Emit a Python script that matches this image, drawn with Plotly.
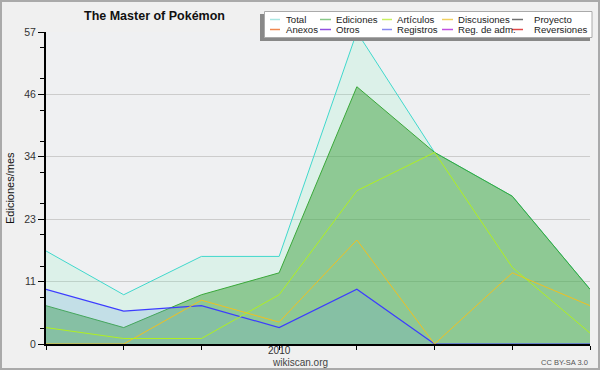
import plotly.graph_objects as go

# ---- data ----
months = ["2009-10", "2009-11", "2009-12", "2010-01", "2010-02", "2010-03", "2010-04", "2010-05"]
month_labels = ["", "", "", "2010", "", "", "", ""]
total = [17, 9, 16, 16, 57, 35, 27, 10]
ediciones = [7, 3, 9, 13, 47, 35, 27, 10]
registros = [10, 6, 7, 3, 10, 0, 0, 0]
articulos = [3, 1, 1, 9, 28, 35, 14, 2]
discusiones = [0, 0, 8, 4, 19, 0, 13, 7]

y_tick_values = [0, 11.4, 22.8, 34.2, 45.6, 57]
y_tick_labels = ["0", "11", "23", "34", "46", "57"]

legend_row1 = ["Total", "Ediciones", "Artículos", "Discusiones", "Proyecto"]
legend_row2 = ["Anexos", "Otros", "Registros", "Reg. de adm.", "Reversiones"]
legend_colors1 = ["#a8e6e2", "#88c888", "#c8f060", "#f0d060", "#707070"]
legend_colors2 = ["#f08850", "#9050e0", "#8888f0", "#c050e0", "#e04848"]

title = "The Master of Pokémon"
y_title = "Ediciones/mes"

# ---- geometry helpers (pixel -> paper) ----
W, H = 600, 370
L, R, T, B = 46, 10, 32, 26
PW, PH = W - L - R, H - T - B


def px(x):
    return (x - L) / PW


def py(y):
    return (H - B - y) / PH


FONT = "Liberation Sans, Arial, sans-serif"

fig = go.Figure()

fig.add_trace(go.Scatter(x=months, y=total, mode="lines", fill="tozeroy",
                         fillcolor="rgba(100,245,180,0.137)",
                         line=dict(color="#40d8cc", width=1), showlegend=False))
fig.add_trace(go.Scatter(x=months, y=ediciones, mode="lines", fill="tozeroy",
                         fillcolor="rgba(64,161,64,0.5)",
                         line=dict(color="#3aa83a", width=1), showlegend=False))
fig.add_trace(go.Scatter(x=months, y=registros, mode="lines", fill="tozeroy",
                         fillcolor="rgba(111,159,225,0.22)",
                         line=dict(color="#3c3cff", width=1.2), showlegend=False))
fig.add_trace(go.Scatter(x=months, y=discusiones, mode="lines",
                         line=dict(color="#f0c020", width=1), showlegend=False))
fig.add_trace(go.Scatter(x=months, y=articulos, mode="lines",
                         line=dict(color="#b0f020", width=1), showlegend=False))

shapes = []
annotations = []

# outer frame
shapes.append(dict(type="rect", xref="paper", yref="paper",
                   x0=px(1), x1=px(599), y0=py(369), y1=py(1),
                   line=dict(color="#aaaaaa", width=2), layer="above"))

# legend shadow + box
shapes.append(dict(type="rect", xref="paper", yref="paper",
                   x0=px(260), x1=px(590), y0=py(41), y1=py(14),
                   fillcolor="#888888", line=dict(width=0), layer="above"))
shapes.append(dict(type="rect", xref="paper", yref="paper",
                   x0=px(264.5), x1=px(592), y0=py(37.5), y1=py(11.5),
                   fillcolor="#ffffff", line=dict(color="#aaaaaa", width=1), layer="above"))

line_x = [270, 320, 382, 442, 512]
line_w = [10, 11, 10, 11, 11]
text_x = [284, 334, 395, 456, 532]
for row_y, names, cols in [(19.5, legend_row1, legend_colors1), (29.5, legend_row2, legend_colors2)]:
    for i, (name, col) in enumerate(zip(names, cols)):
        shapes.append(dict(type="line", xref="paper", yref="paper",
                           x0=px(line_x[i]), x1=px(line_x[i] + line_w[i]),
                           y0=py(row_y), y1=py(row_y),
                           line=dict(color=col, width=1.5), layer="above"))
        annotations.append(dict(xref="paper", yref="paper", x=px(text_x[i]), y=py(row_y),
                                text=name, showarrow=False, xanchor="left", yanchor="middle",
                                font=dict(family=FONT, size=9.6, color="#222222")))

# title
annotations.append(dict(xref="paper", yref="paper", x=px(154.5), y=py(16.5), text="<b>" + title + "</b>",
                        showarrow=False, xanchor="center", yanchor="middle",
                        font=dict(family=FONT, size=12.5, color="#111111")))
# y title
annotations.append(dict(xref="paper", yref="paper", x=px(10), y=py(188), text=y_title,
                        showarrow=False, textangle=-90, xanchor="center", yanchor="middle",
                        font=dict(family=FONT, size=11, color="#111111")))
# credits
annotations.append(dict(xref="paper", yref="paper", x=px(300), y=py(362), text="wikiscan.org",
                        showarrow=False, xanchor="center", yanchor="middle",
                        font=dict(family=FONT, size=10, color="#444444")))
annotations.append(dict(xref="paper", yref="paper", x=px(590), y=py(362), text="CC BY-SA 3.0",
                        showarrow=False, xanchor="right", yanchor="middle",
                        font=dict(family=FONT, size=7.5, color="#555555")))

fig.update_layout(
    width=W, height=H, autosize=False,
    margin=dict(l=L, r=R, t=T, b=B, pad=0),
    paper_bgcolor="#f0f0f0", plot_bgcolor="#eff0f2",
    shapes=shapes, annotations=annotations, showlegend=False,
    xaxis=dict(type="category", range=[0, len(months) - 1], tickmode="array",
               tickvals=months, ticktext=month_labels, ticks="outside", ticklen=4,
               tickwidth=1, tickcolor="#000000", showline=True, linecolor="#000000",
               linewidth=2, showgrid=False, zeroline=False, ticklabelstandoff=-8,
               tickfont=dict(family=FONT, size=10, color="#333333")),
    yaxis=dict(range=[0, 57], tickmode="array", tickvals=y_tick_values, ticktext=y_tick_labels,
               ticks="outside", ticklen=6, tickwidth=1, tickcolor="#000000",
               showline=True, linecolor="#000000", linewidth=2, showgrid=True,
               gridcolor="#cccccc", gridwidth=1, zeroline=False,
               minor=dict(tick0=2.85, dtick=5.7, ticks="outside", ticklen=4, tickcolor="#000000",
                          showgrid=False),
               tickfont=dict(family=FONT, size=10.5, color="#333333")),
)

fig.write_html("out.html", config={"displayModeBar": False},
               post_script="document.body.style.margin='0';document.body.style.overflow='hidden';"
                           "document.body.style.background='#f0f0f0';")
